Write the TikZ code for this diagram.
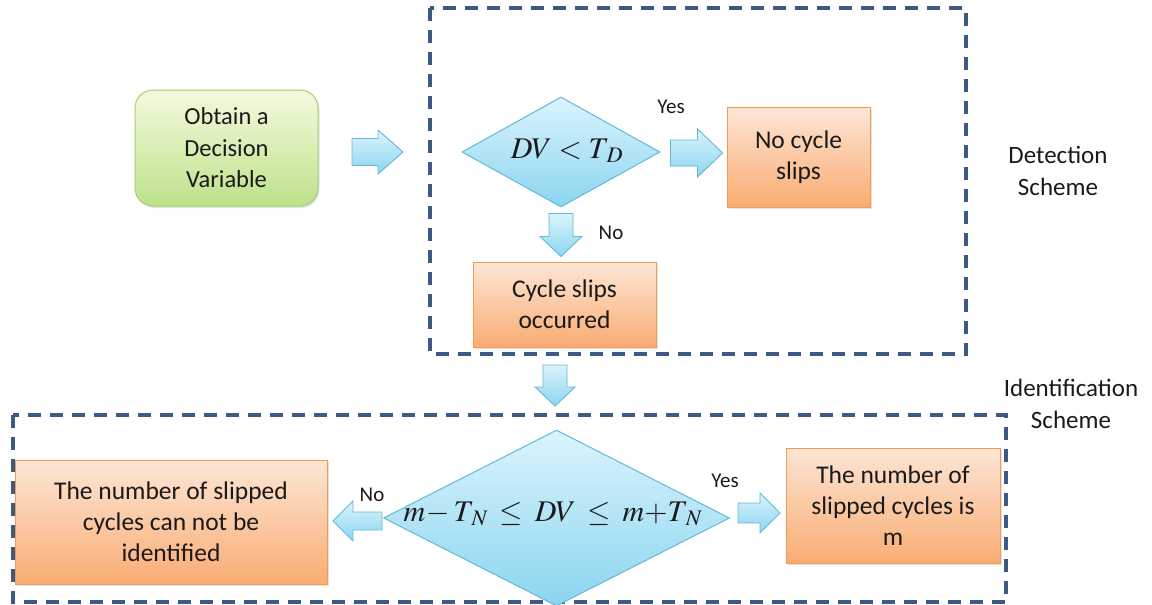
\documentclass[tikz,border=0pt]{standalone}
\usepackage{mathptmx}
\usepackage[no-math]{fontspec}
\setmainfont{Carlito}
\usetikzlibrary{shapes.geometric,shadows,calc}

\definecolor{frameblue}{HTML}{3D5A87}
\definecolor{greentop}{HTML}{F4FADF}
\definecolor{greenbot}{HTML}{BDE28A}
\definecolor{greenedge}{HTML}{A6CF70}
\definecolor{orangetop}{HTML}{FDE6D6}
\definecolor{orangebot}{HTML}{F9AC72}
\definecolor{orangeedge}{HTML}{F39A52}
\definecolor{bluetop}{HTML}{DAF4FC}
\definecolor{bluebot}{HTML}{8CD5F0}
\definecolor{blueedge}{HTML}{62B8D8}
\definecolor{txt}{HTML}{1A1A1A}

\tikzset{
  boxtext/.style={font=\fontsize{25.5}{31}\selectfont, text=txt, align=center},
  lbl/.style={font=\fontsize{21}{24}\selectfont, text=txt},
  sidelbl/.style={font=\fontsize{25}{32}\selectfont, text=txt, align=center},
  softshadow/.style={drop shadow={opacity=0.22, shadow xshift=1.5pt, shadow yshift=-2pt}},
  startbox/.style={boxtext, font=\fontsize{24.5}{31.5}\selectfont, draw=greenedge,
    line width=1pt, rounded corners=18pt,
    top color=greentop, bottom color=greenbot, inner sep=0pt, softshadow},
  resultbox/.style={boxtext, draw=orangeedge, line width=1pt,
    top color=orangetop, bottom color=orangebot, inner sep=0pt, softshadow},
  decision/.style={diamond, draw=blueedge, line width=1pt,
    top color=bluetop, bottom color=bluebot, inner sep=0pt},
  mathtext/.style={font=\fontsize{30}{36}\selectfont, text=txt, inner sep=0pt},
  scheme/.style={draw=frameblue, line width=3.5pt, dash pattern=on 13pt off 9pt},
  blockarrow/.style={draw=blueedge, line width=0.9pt, line join=miter,
    top color=bluetop, bottom color=bluebot},
  % block arrow: #1 length, #2 head length, #3 half head width, #4 half shaft width
  pics/barrow/.style n args={4}{code={
    \path[blockarrow] (0,-#4) -- ({#1-#2},-#4) -- ({#1-#2},-#3) -- (#1,0)
      -- ({#1-#2},#3) -- ({#1-#2},#4) -- (0,#4) -- cycle;
  }}
}

\begin{document}
\begin{tikzpicture}[x=1pt,y=-1pt]
\useasboundingbox (0,0) rectangle (1152,605);

% dashed frames of the two schemes
\draw[scheme] (430,8) rectangle (966,354);
\draw[scheme] (13,415) rectangle (1006,602);

% detection scheme
\node[startbox, minimum width=183pt, minimum height=116pt] (obtain) at (226.5,148)
  {Obtain a\\Decision\\Variable};
\node[decision, minimum width=198pt, minimum height=110pt] (dect) at (561,152) {};
\node[mathtext] (dectxt) at (567,151) {$DV < T_{\mkern3mu D}$};
\node[resultbox, minimum width=143pt, minimum height=100pt] (noslip) at (798.5,157)
  {No cycle\\slips};
\node[resultbox, minimum width=183pt, minimum height=85pt] (slipped) at (564.5,304.5)
  {Cycle slips\\occurred};

\pic (toDetect) at (352,152) {barrow={51}{25}{22}{13.5}};
\pic (detYes) at ($(dect.east)+(10,1)$) {barrow={52}{25}{24}{13}};
\pic[rotate=-90] (detNo) at ($(dect.south)+(0,6)$) {barrow={43}{20}{21}{12}};
\node[lbl] (yesA) at (671,107) {Yes};
\node[lbl] (noA) at (611,233) {No};

% link between schemes
\pic[rotate=-90] (toIdent) at (555,365) {barrow={41}{19}{20}{12}};

% identification scheme
\node[decision, minimum width=346pt, minimum height=176pt] (ident) at (556.5,518) {};
\node[mathtext] (identtxt) at (553,514)
  {$m\mkern1mu{-}\mkern2mu T_{\mkern3mu N} \mkern3mu\le\mkern3mu DV \mkern3mu\le\mkern3mu m{+}T_{\mkern3mu N}$};
\node[resultbox, minimum width=312pt, minimum height=124pt] (unknown) at (171,522)
  {The number of slipped\\cycles can not be\\identified};
\node[resultbox, minimum width=214pt, minimum height=115pt] (found) at (893,505.5)
  {The number of\\slipped cycles is\\m};

\pic[rotate=180] (idNo) at (382,521) {barrow={49}{20}{20}{9}};
\pic (idYes) at (738,513) {barrow={42}{20}{20}{10}};
\node[lbl] (noB) at (372,495) {No};
\node[lbl] (yesB) at (725,481) {Yes};

% scheme captions
\node[sidelbl] (detcap) at (1058,171) {Detection\\Scheme};
\node[sidelbl] (idcap) at (1071,404) {Identification\\Scheme};
\end{tikzpicture}
\end{document}
